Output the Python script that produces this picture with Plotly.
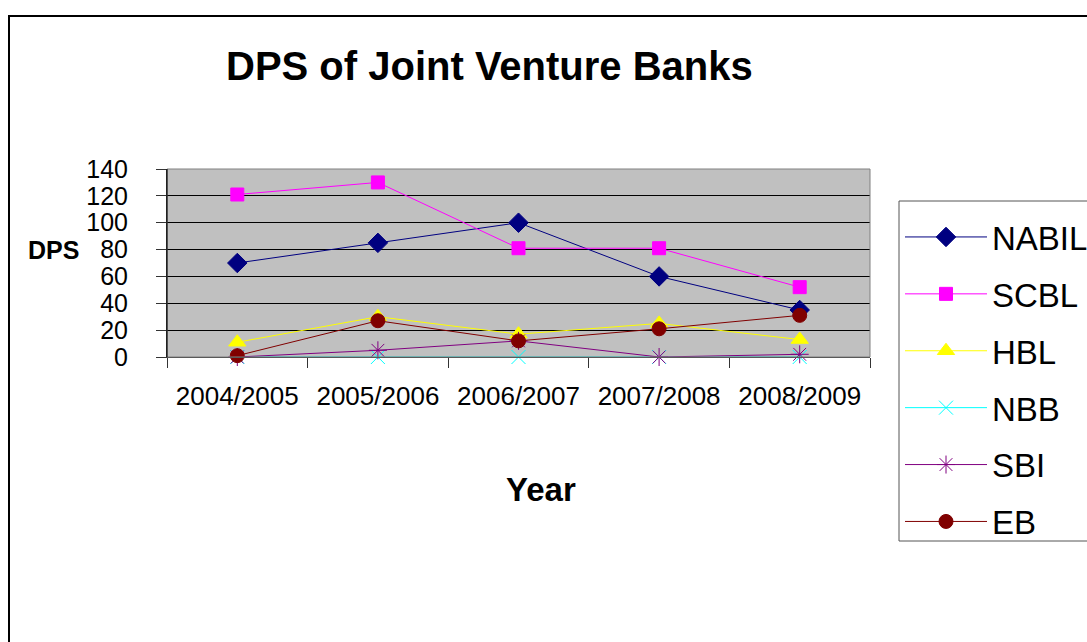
import plotly.graph_objects as go

years = ["2004/2005", "2005/2006", "2006/2007", "2007/2008", "2008/2009"]
nabil = [70, 85, 100, 60, 35]
scbl = [121, 130, 81, 81, 52]
hbl = [11, 30, 17, 25, 13]
nbb = [0, 0, 0, 0, 0]
sbi = [0, 5, 12, 0, 2]
eb = [1, 27, 12, 21, 31]

series = [
    ("NABIL", nabil, "#000080", "diamond", 15),
    ("SCBL", scbl, "#FF00FF", "square", 13),
    ("HBL", hbl, "#FFFF00", "triangle-up", 15),
    ("NBB", nbb, "#00FFFF", "x-thin-open", 14),
    ("SBI", sbi, "#800080", "asterisk-open", 15),
    ("EB", eb, "#800000", "circle", 14),
]

L, R, T, B = 167, 870, 169, 357
W, H = 1087, 642
pw, ph = R - L, B - T

def px(x):
    return (x - L) / pw

def py(y):
    return (B - y) / ph

fig = go.Figure()
for name, vals, color, sym, size in series:
    fig.add_trace(go.Scatter(
        x=years, y=vals, name=name, mode="lines+markers",
        legendgroup=name,
        line=dict(color=color, width=1),
        marker=dict(symbol=sym, size=size, color=color,
                    line=dict(color=color, width=1)),
        cliponaxis=False,
    ))

fig.update_layout(
    width=W, height=H,
    margin=dict(l=L, r=W - R, t=T, b=H - B, autoexpand=False),
    paper_bgcolor="white",
    plot_bgcolor="#C0C0C0",
    font=dict(family="Liberation Sans, Arial, sans-serif", color="black"),
    showlegend=True,
    legend=dict(
        x=px(900), y=py(209), xanchor="left", yanchor="top",
        borderwidth=0, bgcolor="rgba(0,0,0,0)",
        font=dict(size=33, color="black"),
        traceorder="grouped", tracegroupgap=11,
        itemwidth=82, maxheight=500,
    ),
    xaxis=dict(
        type="category", showgrid=False, zeroline=False,
        showline=True, linecolor="#333333", linewidth=1,
        ticks="outside", ticklen=10, tickcolor="#333333",
        tickson="boundaries",
        tickfont=dict(size=26), ticklabelstandoff=16,
        range=[-0.5, 4.5], fixedrange=True,
    ),
    yaxis=dict(
        range=[0, 140], dtick=20, tick0=0,
        showgrid=True, gridcolor="black", gridwidth=1,
        zeroline=False,
        showline=True, linecolor="black", linewidth=1,
        ticks="outside", ticklen=10, tickcolor="#333333",
        tickfont=dict(size=25), ticklabelstandoff=23,
    ),
    shapes=[
        dict(type="rect", xref="paper", yref="paper",
             x0=0, x1=1, y0=0, y1=1,
             line=dict(color="#808080", width=1)),
        dict(type="line", xref="paper", yref="paper",
             x0=0, x1=0, y0=0, y1=1, line=dict(color="black", width=1)),
        dict(type="rect", xref="paper", yref="paper",
             x0=px(9), x1=px(1120), y0=py(16), y1=py(700),
             line=dict(color="black", width=2), layer="below"),
        dict(type="rect", xref="paper", yref="paper",
             x0=px(899), x1=px(1120), y0=py(201), y1=py(541),
             line=dict(color="#555555", width=1), layer="below"),
    ],
    annotations=[
        dict(text="<b>DPS of Joint Venture Banks</b>", xref="paper", yref="paper",
             x=px(489), y=py(66), xanchor="center", yanchor="middle",
             showarrow=False, font=dict(size=40)),
        dict(text="<b>DPS</b>", xref="paper", yref="paper",
             x=px(53), y=py(250), xanchor="center", yanchor="middle",
             showarrow=False, font=dict(size=25)),
        dict(text="<b>Year</b>", xref="paper", yref="paper",
             x=px(541), y=py(489), xanchor="center", yanchor="middle",
             showarrow=False, font=dict(size=33)),
    ],
)

fig.write_html("out.html")
